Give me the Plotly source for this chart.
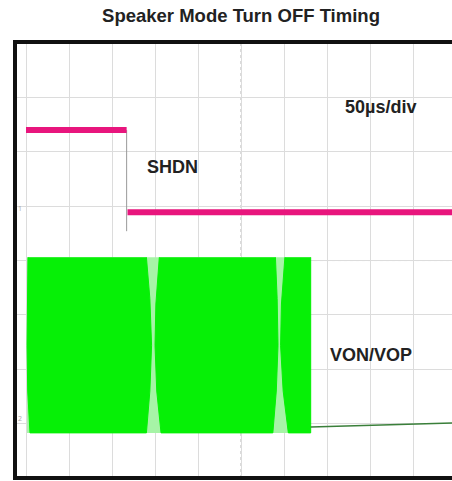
import plotly.graph_objects as go

# Time axis in microseconds (50 us/div), vertical axis in screen divisions (0 = bottom, 8 = top)
title_text = "Speaker Mode Turn OFF Timing"

# SHDN (channel 1)
shdn_high_t = [0, 117]
shdn_high_y = [6.40, 6.40]
shdn_low_t = [118, 496]
shdn_low_y = [4.89, 4.89]
shdn_edge_t = [117, 117]
shdn_edge_y = [6.40, 4.54]

# VON/VOP (channel 2) burst envelope outlines
burst1_t = [2.3, 1.5, 1.2, 2.0, 4.6, 140, 144, 146, 144, 140]
burst1_y = [4.06, 3.2, 2.44, 1.6, 0.83, 0.83, 1.6, 2.44, 3.3, 4.06]
burst2_t = [155, 151, 150, 152, 157, 287, 291, 293, 292, 290]
burst2_y = [4.06, 3.2, 2.44, 1.6, 0.83, 0.83, 1.6, 2.44, 3.3, 4.06]
burst3_t = [301, 297, 296, 299, 305, 331, 331]
burst3_y = [4.06, 3.2, 2.44, 1.6, 0.83, 0.83, 4.06]
band_t = [1.2, 331, 331, 1.2]
band_y = [4.06, 4.06, 0.83, 0.83]
tail_t = [331, 496]
tail_y = [0.94, 1.01]

label_text = ["SHDN", "50\u00b5s/div", "VON/VOP"]
label_t = [170, 412, 401]
label_y = [5.72, 6.82, 2.26]

MAGENTA = "#e8157d"
GREEN = "#06f006"
LIGHT_GREEN = "#a6f4a6"
FONT = "Liberation Sans, Arial, sans-serif"

fig = go.Figure()

fig.add_trace(go.Scatter(x=band_t, y=band_y, fill="toself", fillcolor=LIGHT_GREEN,
                         line=dict(width=0), mode="lines", hoverinfo="skip"))
for bt, by in [(burst1_t, burst1_y), (burst2_t, burst2_y), (burst3_t, burst3_y)]:
    fig.add_trace(go.Scatter(x=bt, y=by, fill="toself", fillcolor=GREEN,
                             line=dict(width=1, color=GREEN), mode="lines",
                             hoverinfo="skip"))
fig.add_trace(go.Scatter(x=tail_t, y=tail_y, mode="lines",
                         line=dict(color="#3a7f3a", width=1.5)))

fig.add_trace(go.Scatter(x=shdn_edge_t, y=shdn_edge_y, mode="lines",
                         line=dict(color="#9a9a9a", width=1)))
fig.add_trace(go.Scatter(x=shdn_high_t, y=shdn_high_y, mode="lines",
                         line=dict(color=MAGENTA, width=6)))
fig.add_trace(go.Scatter(x=shdn_low_t, y=shdn_low_y, mode="lines",
                         line=dict(color=MAGENTA, width=6)))

for txt, tx, ty in zip(label_text, label_t, label_y):
    fig.add_annotation(x=tx, y=ty, text="<b>" + txt + "</b>", showarrow=False,
                       font=dict(family=FONT, size=18, color="#222222"),
                       xanchor="center", yanchor="middle")

# channel markers
fig.add_annotation(x=-7, y=4.96, text="1", showarrow=False, font=dict(size=7, color="#aaaaaa"))
fig.add_annotation(x=-7, y=1.10, text="2", showarrow=False, font=dict(size=7, color="#aaaaaa"))

# center dotted graticule lines
fig.add_shape(type="line", x0=250, x1=250, y0=0, y1=8, xref="x", yref="y",
              line=dict(color="#b5b5b5", width=1, dash="dot"), layer="below")
fig.add_shape(type="line", x0=0, x1=500, y0=4, y1=4, xref="x", yref="y",
              line=dict(color="#b5b5b5", width=1, dash="dot"), layer="below")

# thick outer frame
fig.add_shape(type="rect", x0=0, x1=1.1, y0=0, y1=1, xref="paper", yref="paper",
              line=dict(color="#111111", width=4))

fig.update_layout(
    width=452, height=481, autosize=False,
    margin=dict(l=15, r=0, t=42, b=3),
    paper_bgcolor="white", plot_bgcolor="white",
    showlegend=False,
    title=dict(text="<b>" + title_text + "</b>", x=241 / 452, xanchor="center",
               y=1 - 16 / 481, yanchor="middle",
               font=dict(family=FONT, size=18.5, color="#222222")),
)
fig.update_xaxes(range=[-12.8, 495.3], dtick=50, tick0=0, showgrid=True,
                 gridcolor="#dcdcdc", gridwidth=1, zeroline=False,
                 showticklabels=False, ticks="", showline=False)
fig.update_yaxes(range=[0, 8.02], dtick=1, tick0=0, showgrid=True,
                 gridcolor="#dcdcdc", gridwidth=1, zeroline=False,
                 showticklabels=False, ticks="", showline=False)

fig.write_html("out.html", config={"displayModeBar": False},
               post_script="document.body.style.margin='0';")
